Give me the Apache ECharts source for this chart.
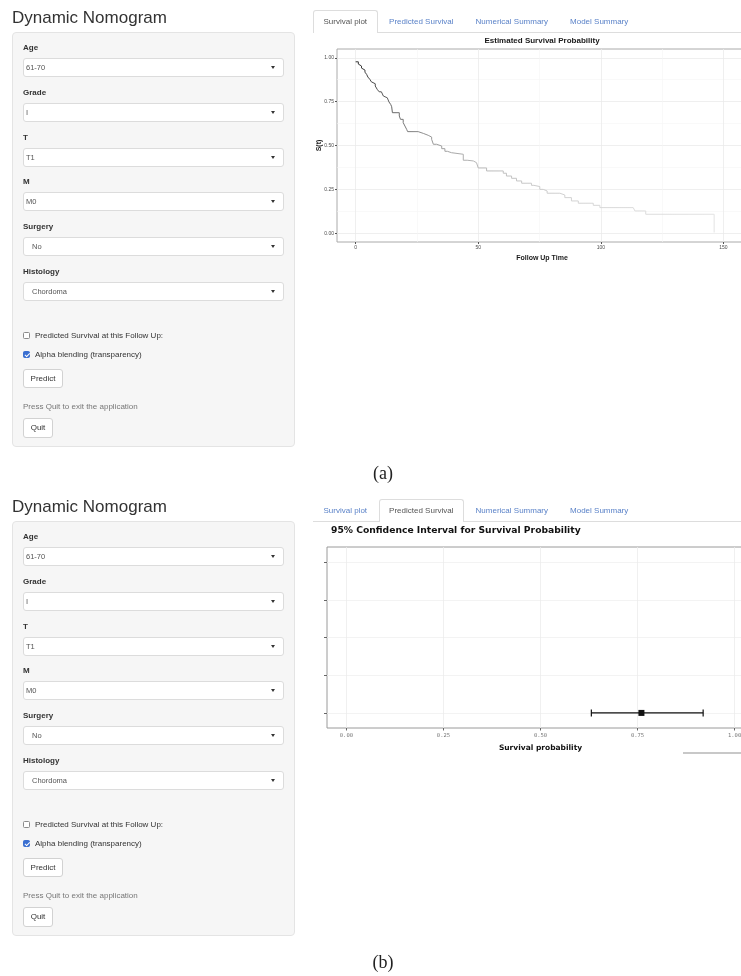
<!DOCTYPE html>
<html>
<head>
<meta charset="utf-8">
<title>Dynamic Nomogram</title>
<script src="https://cdn.jsdelivr.net/npm/echarts@6/dist/echarts.min.js"></script>
<style>
  html, body { margin: 0; padding: 0; width: 741px; height: 976px; overflow: hidden; background: #fff;
    font-family: "Liberation Sans", Arial, sans-serif; }
  .panel { position: absolute; left: 0; width: 741px; height: 489px; }
  .panel * { box-sizing: border-box; }
  .app-title { position: absolute; left: 12px; top: 8px; font-size: 17px; line-height: 20px; color: #333; white-space: nowrap; }
  .well { position: absolute; left: 12px; top: 32px; width: 283px; height: 415px; background: #f6f6f6;
    border: 1px solid #e4e4e4; border-radius: 4px; }
  .lbl { position: absolute; left: 23px; font-size: 8px; line-height: 10px; font-weight: bold; color: #333; white-space: nowrap; }
  .sel { position: absolute; left: 23px; width: 261px; height: 19px; background: #fff; border: 1px solid #dcdcdc;
    border-radius: 3px; font-size: 7.5px; line-height: 17px; color: #555; white-space: nowrap; }
  .caret { position: absolute; right: 8px; top: 7px; width: 0; height: 0; border-left: 2.5px solid transparent;
    border-right: 2.5px solid transparent; border-top: 3px solid #333; }
  .cb { position: absolute; left: 23px; width: 7px; height: 7px; border: 1px solid #8c8c8c; border-radius: 1.5px; background: #fff; }
  .cb.on { background: #3a6fd1; border-color: #3a6fd1; }
  .cb.on::after { content: ''; position: absolute; left: 1.7px; top: 0.3px; width: 2px; height: 3.6px;
    border: solid #fff; border-width: 0 1px 1px 0; transform: rotate(45deg); }
  .cbtxt { position: absolute; left: 35px; font-size: 8px; line-height: 10px; color: #333; white-space: nowrap; }
  .btn { position: absolute; left: 23px; background: #fff; border: 1px solid #d2d2d2; border-radius: 3px;
    font-size: 8px; color: #333; text-align: center; white-space: nowrap; }
  .hint { position: absolute; left: 23px; font-size: 8px; line-height: 10px; color: #777; white-space: nowrap; }
  .tabs { position: absolute; left: 313px; top: 11px; width: 428px; height: 22px; border-bottom: 1px solid #ddd;
    display: flex; align-items: flex-end; }
  .tab { height: 22px; padding: 0 9.5px; margin-right: 1px; font-size: 8px; line-height: 21px; color: #5a82c8;
    white-space: nowrap; border: 1px solid transparent; border-bottom: none; }
  .tab.active { color: #555; background: #fff; border-color: #ddd; border-radius: 3px 3px 0 0; height: 23px; margin-bottom: -1px; }
  .caption { position: absolute; left: 333px; width: 100px; top: 462px; text-align: center; font-family: "Liberation Serif", "DejaVu Serif", serif;
    font-size: 18px; line-height: 22px; color: #222; }
  .chart { position: absolute; }
  .rule { position: absolute; left: 683px; top: 752px; width: 58px; height: 1.5px; background: #c8c8c8; }
</style>
</head>
<body>
<div id="survPlot" class="chart" style="left:300px; top:35px; width:484px; height:235px;"></div>
<div id="ciPlot" class="chart" style="left:310px; top:523px; width:460px; height:240px;"></div>
<div class="rule"></div>
<script>
// ---- inputs of the nomogram sidebar ----
const appTitle = 'Dynamic Nomogram';
const sidebarFields = ['Age', 'Grade', 'T', 'M', 'Surgery', 'Histology'];
const sidebarValues = ['61-70', 'I', 'T1', 'M0', 'No', 'Chordoma'];
const checkLabels = ['Predicted Survival at this Follow Up:', 'Alpha blending (transparency)'];
const checkStates = [false, true];
const predictLabel = 'Predict';
const quitHint = 'Press Quit to exit the application';
const quitLabel = 'Quit';
const tabNames = ['Survival plot', 'Predicted Survival', 'Numerical Summary', 'Model Summary'];
const captions = ['(a)', '(b)'];

// ---- Kaplan-Meier estimate: drop times and survival after each drop ----
const followUpTime = [0, 1.1, 1.8, 2.4, 3.1, 3.8, 4.5, 5.0, 5.8, 6.4, 7.2, 8.0, 8.8, 9.6, 10.5, 11.3, 12.1, 12.9,
  13.6, 14.3, 14.7, 15.0, 17.8, 18.3, 19.4, 20.1, 20.8, 21.2, 25.5, 27.6, 29.6, 31.0, 31.7, 33.0, 35.1, 36.4,
  37.4, 39.1, 43.9, 45.5, 48.0, 49.3, 50.0, 53.4, 60.2, 61.5, 63.6, 65.6, 67.7, 71.7, 72.7, 75.1, 76.5, 78.1,
  83.3, 85.3, 88.0, 90.8, 96.9, 99.6, 113.2, 113.9, 118.3, 146.2];
const survivalProb = [0.977, 0.964, 0.953, 0.941, 0.930, 0.918, 0.905, 0.890, 0.877, 0.863, 0.852, 0.839, 0.820,
  0.806, 0.795, 0.782, 0.772, 0.763, 0.748, 0.734, 0.721, 0.687, 0.668, 0.649, 0.630, 0.611, 0.592, 0.579, 0.569,
  0.558, 0.548, 0.535, 0.507, 0.497, 0.482, 0.467, 0.459, 0.450, 0.416, 0.412, 0.402, 0.393, 0.372, 0.355, 0.342,
  0.326, 0.313, 0.298, 0.285, 0.273, 0.266, 0.250, 0.241, 0.228, 0.218, 0.203, 0.184, 0.171, 0.159, 0.146, 0.137,
  0.127, 0.108, 0.004];
const timeTicks = [0, 50, 100, 150];
const timeMinorTicks = [25, 75, 125];
const survTicks = [0, 0.25, 0.5, 0.75, 1];
const survMinorTicks = [0.125, 0.375, 0.625, 0.875];

// ---- predicted survival with 95% confidence interval ----
const ciRows = [1, 2, 3, 4, 5];
const ciRowOfEstimate = [1];
const ciEstimate = [0.76];
const ciLower = [0.631];
const ciUpper = [0.919];
const probTicks = [0, 0.25, 0.5, 0.75, 1];

function el(parent, cls, text, css) {
  const d = document.createElement('div');
  if (cls) d.className = cls;
  if (text != null) d.textContent = text;
  if (css) Object.assign(d.style, css);
  parent.appendChild(d);
  return d;
}

function buildPanel(offsetTop, activeTab, captionText) {
  const p = el(document.body, 'panel', null, { top: offsetTop + 'px' });
  el(p, 'app-title', appTitle);
  el(p, 'well');
  sidebarFields.forEach((name, i) => {
    const y = 48 + 44.8 * i;
    el(p, 'lbl', name, { top: (y - 5) + 'px' });
    const s = el(p, 'sel', null, { top: (y + 10) + 'px', paddingLeft: (i < 4 ? 2 : 8) + 'px' });
    const t = document.createElement('span');
    t.textContent = sidebarValues[i];
    s.appendChild(t);
    el(s, 'caret');
  });
  checkLabels.forEach((txt, i) => {
    const cy = 335.5 + 19 * i;
    el(p, 'cb' + (checkStates[i] ? ' on' : ''), null, { top: (cy - 3.5) + 'px' });
    el(p, 'cbtxt', txt, { top: (cy - 5) + 'px' });
  });
  el(p, 'btn', predictLabel, { top: '369px', width: '40px', height: '19px', lineHeight: '17px' });
  el(p, 'hint', quitHint, { top: '402px' });
  el(p, 'btn', quitLabel, { top: '418px', width: '30px', height: '20px', lineHeight: '18px' });
  const tabs = el(p, 'tabs');
  tabNames.forEach((n, i) => el(tabs, 'tab' + (i === activeTab ? ' active' : ''), n));
  el(p, 'caption', captionText);
}

buildPanel(0, 0, captions[0]);
buildPanel(489, 1, captions[1]);

// ---- survival curve ----
const chartA = echarts.init(document.getElementById('survPlot'));
const axisFontA = { fontFamily: 'Liberation Sans', fontSize: 5, color: '#4d4d4d' };
const gridLineMajor = { color: '#ebebeb', width: 0.8 };
const gridLineMinor = { color: '#f5f5f5', width: 0.6 };
const hiddenAxisParts = { axisLine: { show: false, onZero: false }, axisLabel: { show: false } };
chartA.setOption({
  animation: false,
  title: {
    text: 'Estimated Survival Probability', left: 'center', top: 2, padding: 0,
    textStyle: { fontFamily: 'Liberation Sans', fontSize: 8, fontWeight: 'bold', color: '#1a1a1a' }
  },
  grid: { left: 37, top: 14, width: 410, height: 193, show: true, borderColor: '#aaaaaa', borderWidth: 1 },
  xAxis: [
    {
      type: 'value', min: -7.6, max: 159.6, position: 'bottom',
      name: 'Follow Up Time', nameLocation: 'middle', nameGap: 13, nameMoveOverlap: false,
      nameTextStyle: { fontFamily: 'Liberation Sans', fontSize: 7, fontWeight: 'bold', color: '#1a1a1a' },
      axisLine: { show: false, onZero: false },
      axisTick: { show: true, length: 2, customValues: timeTicks, lineStyle: { color: '#555' } },
      axisLabel: Object.assign({ customValues: timeTicks, margin: 3 }, axisFontA),
      splitLine: { show: true, lineStyle: gridLineMajor }
    },
    Object.assign({
      type: 'value', min: -7.6, max: 159.6, position: 'bottom',
      axisTick: { show: false, customValues: timeMinorTicks },
      splitLine: { show: true, lineStyle: gridLineMinor }
    }, hiddenAxisParts)
  ],
  yAxis: [
    {
      type: 'value', min: -0.05, max: 1.05, position: 'left',
      name: 'S(t)', nameLocation: 'middle', nameGap: 14, nameRotate: 90, nameMoveOverlap: false,
      nameTextStyle: { fontFamily: 'Liberation Sans', fontSize: 7, fontWeight: 'bold', color: '#1a1a1a' },
      axisLine: { show: false, onZero: false },
      axisTick: { show: true, length: 2, customValues: survTicks, lineStyle: { color: '#555' } },
      axisLabel: Object.assign({ customValues: survTicks, margin: 3, formatter: v => v.toFixed(2) }, axisFontA),
      splitLine: { show: true, lineStyle: gridLineMajor }
    },
    Object.assign({
      type: 'value', min: -0.05, max: 1.05, position: 'left',
      axisTick: { show: false, customValues: survMinorTicks },
      splitLine: { show: true, lineStyle: gridLineMinor }
    }, hiddenAxisParts)
  ],
  series: [{
    type: 'line', step: 'end', symbol: 'none', xAxisIndex: 0, yAxisIndex: 0,
    data: followUpTime.map((t, i) => [t, survivalProb[i]]),
    lineStyle: {
      width: 1,
      color: new echarts.graphic.LinearGradient(0, 0, 1, 0, [
        { offset: 0, color: '#2e2e2e' },
        { offset: 0.07, color: '#505050' },
        { offset: 0.14, color: '#787878' },
        { offset: 0.22, color: '#999999' },
        { offset: 0.33, color: '#b5b5b5' },
        { offset: 0.5, color: '#cbcbcb' },
        { offset: 0.7, color: '#d9d9d9' },
        { offset: 1, color: '#e3e3e3' }
      ])
    }
  }]
});

// ---- confidence interval plot ----
const chartB = echarts.init(document.getElementById('ciPlot'));
chartB.setOption({
  animation: false,
  title: {
    text: '95% Confidence Interval for Survival Probability', left: 21, top: 3, padding: 0,
    textStyle: { fontFamily: 'DejaVu Sans', fontSize: 9.2, fontWeight: 'bold', color: '#111' }
  },
  grid: { left: 17, top: 24, width: 427, height: 181, show: true, borderColor: '#9a9a9a', borderWidth: 1 },
  xAxis: {
    type: 'value', min: -0.05, max: 1.05, position: 'bottom',
    name: 'Survival probability', nameLocation: 'middle', nameGap: 16, nameMoveOverlap: false,
    nameTextStyle: { fontFamily: 'DejaVu Sans', fontSize: 7.5, fontWeight: 'bold', color: '#111' },
    axisLine: { show: false, onZero: false },
    axisTick: { show: true, length: 2.5, customValues: probTicks, lineStyle: { color: '#666' } },
    axisLabel: { customValues: probTicks, margin: 5, formatter: v => v.toFixed(2),
      fontFamily: 'DejaVu Sans Mono', fontSize: 5.5, color: '#777' },
    splitLine: { show: true, lineStyle: { color: '#ececec', width: 0.8 } }
  },
  yAxis: {
    type: 'value', min: 0.6, max: 5.4, position: 'left',
    axisLine: { show: false, onZero: false },
    axisTick: { show: true, length: 3, customValues: ciRows, lineStyle: { color: '#666' } },
    axisLabel: { show: false },
    splitLine: { show: true, lineStyle: { color: '#f0f0f0', width: 0.8 } }
  },
  series: [{
    type: 'custom',
    data: ciEstimate.map((v, i) => [ciLower[i], v, ciUpper[i], ciRowOfEstimate[i]]),
    renderItem: function (params, api) {
      const row = api.value(3);
      const lo = api.coord([api.value(0), row]);
      const mid = api.coord([api.value(1), row]);
      const hi = api.coord([api.value(2), row]);
      const cap = 3.5, half = 3;
      const stroke = { stroke: '#111', lineWidth: 1.2 };
      return {
        type: 'group',
        children: [
          { type: 'line', shape: { x1: lo[0], y1: lo[1], x2: hi[0], y2: hi[1] }, style: stroke },
          { type: 'line', shape: { x1: lo[0], y1: lo[1] - cap, x2: lo[0], y2: lo[1] + cap }, style: stroke },
          { type: 'line', shape: { x1: hi[0], y1: hi[1] - cap, x2: hi[0], y2: hi[1] + cap }, style: stroke },
          { type: 'rect', shape: { x: mid[0] - half, y: mid[1] - half, width: half * 2, height: half * 2 }, style: { fill: '#111' } }
        ]
      };
    }
  }]
});
</script>
</body>
</html>
